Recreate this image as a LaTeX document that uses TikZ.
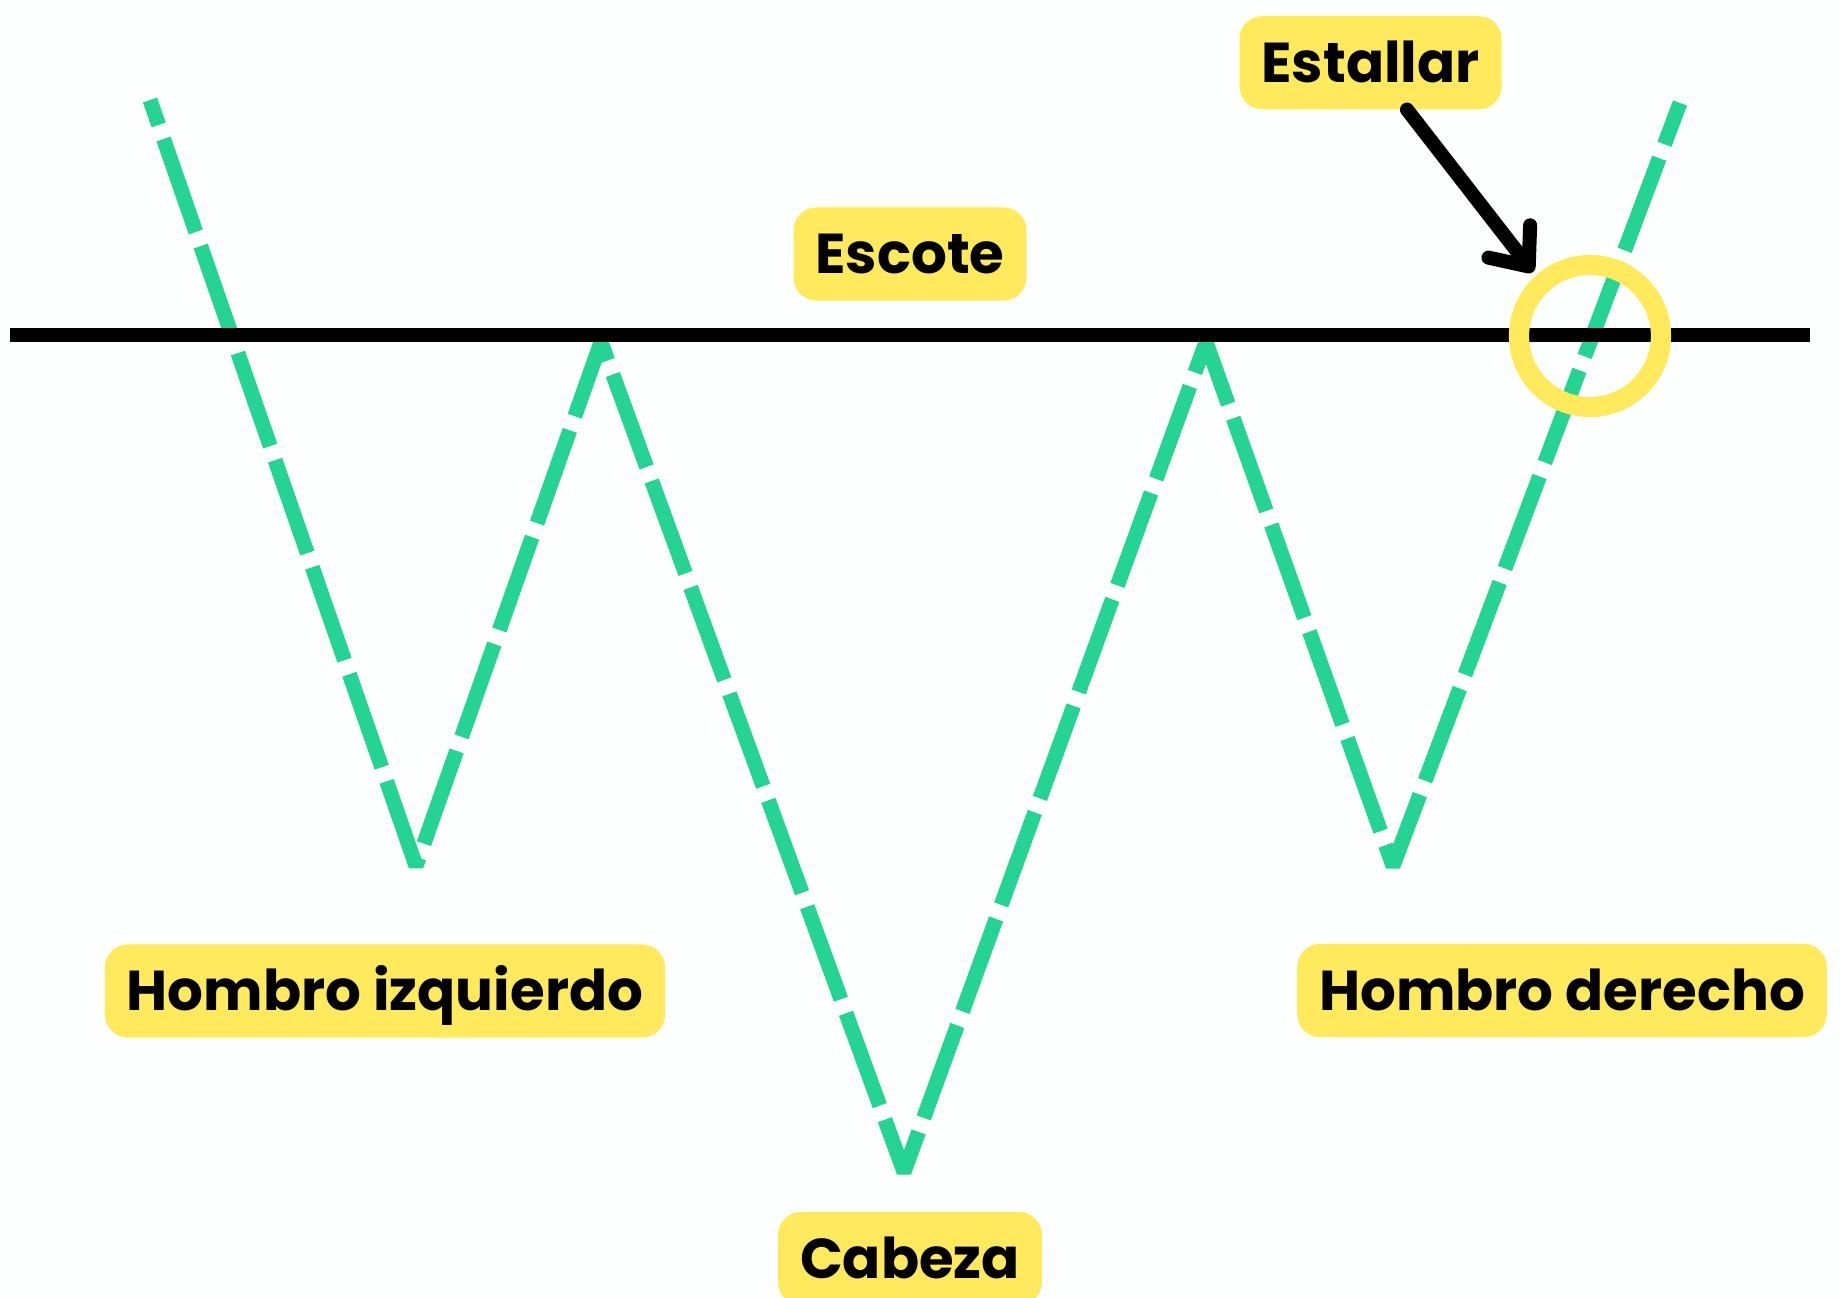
\documentclass[tikz,border=0pt]{standalone}
\usepackage{fontspec}
\setmainfont{Poppins}
\usetikzlibrary{arrows.meta}
\definecolor{fverde}{HTML}{25D392}
\definecolor{famarillo}{HTML}{FFE95C}
\definecolor{ffondo}{HTML}{FDFEFE}
\begin{document}
\begin{tikzpicture}[x=0.02cm,y=-0.02cm,
  etiqueta/.style={fill=famarillo,rounded corners=13pt,minimum height=53pt,inner xsep=12.5pt,
    text height=22.5pt,text depth=0pt,font=\fontsize{32}{38}\selectfont\bfseries},
  patron/.style={draw=fverde,line width=8.5pt,dash pattern=on 56pt off 8.5pt,dash phase=41pt,line join=bevel},
  escote/.style={draw=black,line width=8.5pt},
  flecha/.style={draw=black,line width=8pt,line cap=round,
    -{Straight Barb[round,length=18pt,width=30pt,line width=8pt]}}]
\fill[ffondo] (0,0) rectangle (1840,1298);
\useasboundingbox (0,0) rectangle (1840,1298);
% puntos del patron
\coordinate (p0) at (150,100);
\coordinate (p1) at (416,866);
\coordinate (p2) at (601,342);
\coordinate (p3) at (904,1172);
\coordinate (p4) at (1206,342);
\coordinate (p5) at (1393,866);
\coordinate (p6) at (1680,103);
\draw[patron] (p0) -- (p1) -- (p2) -- (p3) -- (p4) -- (p5) -- (p6);
% linea del escote
\coordinate (ea) at (10,335);
\coordinate (eb) at (1810,335);
\draw[escote] (ea) -- (eb);
% ruptura
\coordinate (ruptura) at (1590,336);
\draw[famarillo,line width=11.5pt] (ruptura) circle (71);
% etiquetas
\node[etiqueta] (estallar) at (1370.6,62.7) {Estallar};
\node[etiqueta] (esc) at (910,254) {Escote};
\node[etiqueta] (izq) at (385,991) {Hombro izquierdo};
\node[etiqueta] (der) at (1562,990.5) {Hombro derecho};
\node[etiqueta] (cabeza) at (910,1258.5) {Cabeza};
\coordinate (punta) at (1533,272);
\draw[flecha] (estallar) -- (punta);
\end{tikzpicture}
\end{document}
